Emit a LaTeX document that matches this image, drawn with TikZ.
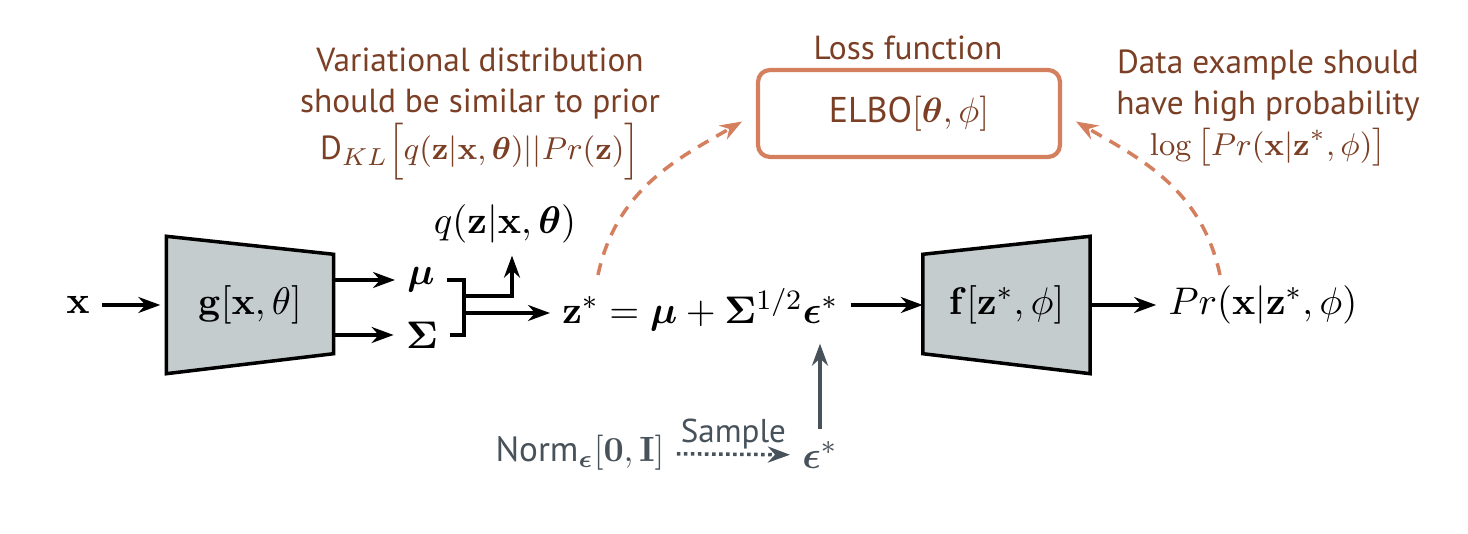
\documentclass[tikz,border=0pt]{standalone}
\usepackage{amsmath,bm}
\usepackage[no-math]{fontspec}
\setmainfont{PT Sans}
\usetikzlibrary{arrows.meta,backgrounds}
\definecolor{losscol}{HTML}{D4805F}
\definecolor{losstext}{HTML}{7B3F25}
\definecolor{netfill}{HTML}{C5CCCE}
\definecolor{noisecol}{HTML}{48525A}

\begin{document}
\begin{tikzpicture}[font=\fontsize{11}{12}\selectfont,
  >={Stealth[length=2.2mm, width=1.6mm]},
  net/.style={minimum width=1.66cm, minimum height=1.36cm, inner sep=0pt},
  netbody/.style={draw, fill=netfill, line width=1pt},
  arr/.style={->, line width=0.9pt},
  wire/.style={line width=0.9pt},
  noise/.style={text=noisecol, font=\fontsize{10}{12}\selectfont},
  loss/.style={->, line width=1pt, draw=losscol, dash pattern=on 1.2mm off 0.9mm, shorten >=1.6mm},
  note/.style={text=losstext, align=center, font=\fontsize{9.5}{11.7}\selectfont}]
  \useasboundingbox (0,0) rectangle (14.68,5.34);

  % encoder
  \node (x) at (0.78,2.29) {$\mathbf{x}$};
  \node[net] (g) at (2.50,2.29) {$\mathbf{g}[\mathbf{x},\theta]$};
  \node (mu) at (4.21,2.54) {$\bm{\mu}$};
  \node (sig) at (4.22,1.99) {$\bm{\Sigma}$};
  \node (q) at (5.05,3.10) {$q(\mathbf{z}|\mathbf{x},\bm{\theta})$};
  \coordinate (qfork) at (4.64,2.38);
  \coordinate (zfork) at (4.64,2.21);

  % reparameterisation and decoder
  \node[anchor=west] (zs) at (5.50,2.24) {$\mathbf{z}^{*}=\bm{\mu}+\bm{\Sigma}^{1/2}\bm{\epsilon}^{*}$};
  \node[net] (f) at (10.065,2.29) {$\mathbf{f}[\mathbf{z}^{*},\phi]$};
  \node (pr) at (12.63,2.29) {$Pr(\mathbf{x}|\mathbf{z}^{*},\phi)$};

  % noise
  \node[noise] (norm) at (5.80,0.81) {Norm$_{\bm{\epsilon}}[\mathbf{0},\mathbf{I}]$};
  \node[noise, font=\fontsize{11}{12}\selectfont] (eps) at (8.20,0.79) {$\bm{\epsilon}^{*}$};

  % loss
  \node[draw=losscol, line width=1.2pt, rounded corners=1.2mm, minimum width=3.02cm,
    minimum height=0.87cm, text=losstext, font=\fontsize{10.2}{12}\selectfont] (elbo) at (9.09,4.205) {ELBO$[\bm{\theta},\phi]$};
  \node[note] (losslbl) at (9.08,4.86) {Loss function};
  \node[note] (klnote) at (4.80,4.20) {Variational distribution\\should be similar to prior\\
    D$_{KL}\Big[q(\mathbf{z}|\mathbf{x},\bm{\theta})||Pr(\mathbf{z})\Big]$};
  \node[note] (llnote) at (12.68,4.26) {Data example should\\have high probability\\
    $\log\big[Pr(\mathbf{x}|\mathbf{z}^{*},\phi)\big]$};
  \coordinate (klstart) at (5.98,2.59);
  \coordinate (llstart) at (12.20,2.59);

  \begin{pgfonlayer}{background}
    \fill[white] (0,0) rectangle (14.68,5.34);
    \draw[netbody] (g.north west) -- ([yshift=-1.8mm]g.north east) -- ([yshift=2mm]g.south east) -- (g.south west) -- cycle;
    \draw[netbody] ([yshift=-1.8mm]f.north west) -- (f.north east) -- (f.south east) -- ([yshift=2mm]f.south west) -- cycle;
  \end{pgfonlayer}

  \draw[arr, shorten >=0.6mm] (x) -- (g);
  \draw[arr] (g.east |- mu) -- (mu);
  \draw[arr] (g.east |- sig) -- (sig);
  \draw[wire] (mu.east) -| (qfork) -- (zfork) |- (sig.east);
  \draw[arr] (qfork) -| ([xshift=0.7mm]q.south);
  \draw[arr] (zfork) -- (zs.west |- zfork);
  \draw[arr] (zs.east |- f) -- (f);
  \draw[arr] (f) -- (pr);
  \draw[->, densely dotted, line width=1pt, noisecol] (norm) -- node[above, inner sep=1pt, noise, font=\fontsize{9.4}{11}\selectfont] {Sample} (eps);
  \draw[->, line width=1pt, noisecol] (eps) -- (eps |- zs.south);
  \draw[loss] (klstart) to[out=78, in=210] (elbo.west);
  \draw[loss] (llstart) to[out=102, in=-30] (elbo.east);
\end{tikzpicture}
\end{document}
